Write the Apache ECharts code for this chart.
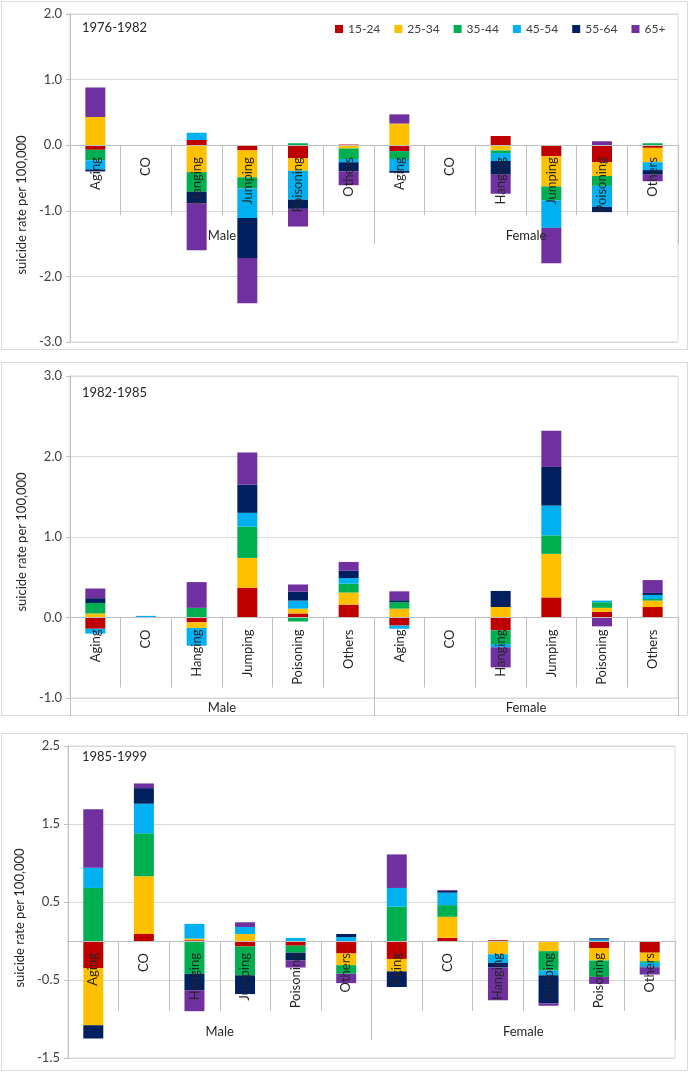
<!DOCTYPE html>
<html>
<head>
<meta charset="utf-8">
<script src="https://cdn.jsdelivr.net/npm/echarts@6/dist/echarts.min.js"></script>
<style>
  html, body { margin: 0; padding: 0; background: #fff; }
  #main { width: 690px; height: 1073px; }
</style>
</head>
<body>
<div id="main"></div>
<script>
// categories
var methods = ['Aging', 'CO', 'Hanging', 'Jumping', 'Poisoning', 'Others'];
var categories = methods.concat(methods);   // male 6, female 6
var groups = ['Male', 'Female'];
var ageGroups = ['15-24', '25-34', '35-44', '45-54', '55-64', '65+'];
var periods = ['1976-1982', '1982-1985', '1985-1999'];

// y axis ranges [min, max, interval]
var yAxis1 = [-3, 2, 1];
var yAxis2 = [-1, 3, 1];
var yAxis3 = [-1.5, 2.5, 1];

// one row per age group, male 6 values then female 6 values
var data1976 = [
  [-0.07, 0, 0.08, -0.08, -0.20, 0.01,   -0.09, 0, 0.14, -0.17, -0.26, -0.04],
  [0.43, 0, -0.41, -0.41, -0.19, -0.05,  0.33, 0, -0.08, -0.46, -0.21, -0.22],
  [-0.16, 0, -0.30, -0.17, 0.03, -0.16,  -0.12, 0, -0.04, -0.21, -0.15, 0.03],
  [-0.14, 0, 0.11, -0.45, -0.44, -0.05,  -0.18, 0, -0.12, -0.42, -0.32, -0.12],
  [-0.03, 0, -0.18, -0.61, -0.14, -0.14, -0.03, 0, -0.21, 0, -0.08, -0.07],
  [0.45, 0, -0.71, -0.69, -0.27, -0.21,  0.14, 0, -0.29, -0.54, 0.06, -0.10]
];
var data1982 = [
  [-0.14, 0, -0.06, 0.37, 0.05, 0.16,    -0.10, 0, -0.16, 0.25, 0.07, 0.13],
  [0.05, 0, -0.07, 0.37, 0.06, 0.15,     0.11, 0, 0.13, 0.54, 0.05, 0.08],
  [0.13, 0, 0.12, 0.39, -0.05, 0.11,     0.08, 0, -0.17, 0.23, 0.07, 0.02],
  [-0.06, 0.02, -0.22, 0.17, 0.10, 0.07, -0.04, 0, -0.04, 0.37, 0.02, 0.05],
  [0.06, 0, 0, 0.35, 0.11, 0.09,         0.025, 0, 0.20, 0.48, 0, 0.025],
  [0.12, 0, 0.32, 0.40, 0.09, 0.11,      0.11, 0, -0.25, 0.45, -0.11, 0.16]
];
var data1985 = [
  [-0.35, 0.09, 0.01, -0.07, -0.06, -0.16,  -0.23, 0.04, 0.01, 0, -0.09, -0.15],
  [-0.73, 0.74, 0.02, 0.09, 0, -0.15,       -0.16, 0.27, -0.17, -0.13, -0.16, -0.11],
  [0.68, 0.55, -0.42, -0.37, -0.09, -0.11,  0.44, 0.15, 0, -0.25, -0.21, -0.02],
  [0.26, 0.38, 0.19, 0.09, 0.04, 0.05,      0.24, 0.16, -0.11, -0.06, 0.02, -0.05],
  [-0.17, 0.20, -0.21, -0.24, -0.10, 0.04,  -0.20, 0.025, -0.06, -0.36, 0.015, -0.01],
  [0.75, 0.06, -0.27, 0.06, -0.09, -0.12,   0.43, 0.01, -0.42, -0.03, -0.09, -0.09]
];

var colors = ['#C00000', '#FFC000', '#00B050', '#00B0F0', '#002060', '#7030A0'];
var font = 'Lato, "Open Sans", sans-serif';
var gridLine = '#d9d9d9';
var axisGray = '#bfbfbf';

var chart = echarts.init(document.getElementById('main'));

var panels = [
  { data: data1976, y: yAxis1, grid: { left: 70, right: 12, top: 14, height: 328 }, titleTop: 16, namePad: [0, 54, 0, 0] },
  { data: data1982, y: yAxis2, grid: { left: 70, right: 12, top: 376, height: 322 }, titleTop: 381, namePad: [0, 10, 0, 0] },
  { data: data1985, y: yAxis3, grid: { left: 68, right: 15, top: 746, height: 312 }, titleTop: 745, namePad: [0, 32, 0, 0] }
];

var grids = [], xAxes = [], yAxes = [], series = [], titles = [];

panels.forEach(function (p, i) {
  grids.push(Object.assign({
    show: true, borderColor: gridLine, borderWidth: 1,
    containLabel: false, outerBoundsMode: 'none'
  }, p.grid));
  titles.push({
    text: periods[i], left: 77, top: p.titleTop,
    textStyle: { fontSize: 13, fontWeight: 'normal', color: '#262626', fontFamily: font }
  });
  // lift the category axes from the grid bottom up to the y = 0 line
  var zeroOffset = -p.grid.height * (0 - p.y[0]) / (p.y[1] - p.y[0]);
  // method categories
  xAxes.push({
    type: 'category', gridIndex: i, position: 'bottom', offset: zeroOffset, data: categories, z: 10,
    axisLine: { onZero: false, lineStyle: { color: axisGray } },
    axisTick: { show: true, interval: 0, length: 70, lineStyle: { color: axisGray } },
    axisLabel: { interval: 0, rotate: 90, margin: 12, fontSize: 13, color: '#262626', fontFamily: font }
  });
  // Male / Female
  xAxes.push({
    type: 'category', gridIndex: i, position: 'bottom', offset: zeroOffset, data: groups, z: 10,
    axisLine: { onZero: false, lineStyle: { color: axisGray } },
    axisTick: { show: true, interval: 0, length: 99, lineStyle: { color: axisGray } },
    axisLabel: { interval: 0, margin: 84, fontSize: 13, color: '#262626', fontFamily: font }
  });
  yAxes.push({
    type: 'value', gridIndex: i,
    min: p.y[0], max: p.y[1], interval: p.y[2],
    name: 'suicide rate per 100,000', nameLocation: 'middle', nameGap: 40,
    nameTextStyle: { fontSize: 13, color: '#262626', fontFamily: font, padding: p.namePad },
    axisLine: { show: true, lineStyle: { color: axisGray } },
    axisTick: { show: true, length: 4, lineStyle: { color: axisGray } },
    axisLabel: {
      fontSize: 13, color: '#404040', fontFamily: font, margin: 8,
      formatter: function (v) { return v.toFixed(1); }
    },
    splitLine: { lineStyle: { color: gridLine } }
  });
  ageGroups.forEach(function (name, g) {
    series.push({
      name: name, type: 'bar',
      xAxisIndex: i * 2, yAxisIndex: i,
      stack: 'panel' + i, barWidth: 20,
      itemStyle: { color: colors[g] },
      data: p.data[g]
    });
  });
});

chart.setOption({
  animation: false,
  textStyle: { fontFamily: font },
  title: titles,
  legend: {
    data: ageGroups, left: 330, top: 18, width: 350,
    icon: 'rect', itemWidth: 8, itemHeight: 8, itemGap: 14,
    textStyle: { fontSize: 12, color: '#404040', fontFamily: font }
  },
  graphic: [
    { type: 'rect', shape: { x: 1.5, y: 1.5, width: 686, height: 348 }, style: { fill: null, stroke: gridLine, lineWidth: 1 }, silent: true },
    { type: 'rect', shape: { x: 1.5, y: 362.5, width: 686, height: 353 }, style: { fill: null, stroke: gridLine, lineWidth: 1 }, silent: true },
    { type: 'rect', shape: { x: 1.5, y: 733.5, width: 686, height: 337 }, style: { fill: null, stroke: gridLine, lineWidth: 1 }, silent: true }
  ],
  grid: grids,
  xAxis: xAxes,
  yAxis: yAxes,
  series: series
});
</script>
</body>
</html>
